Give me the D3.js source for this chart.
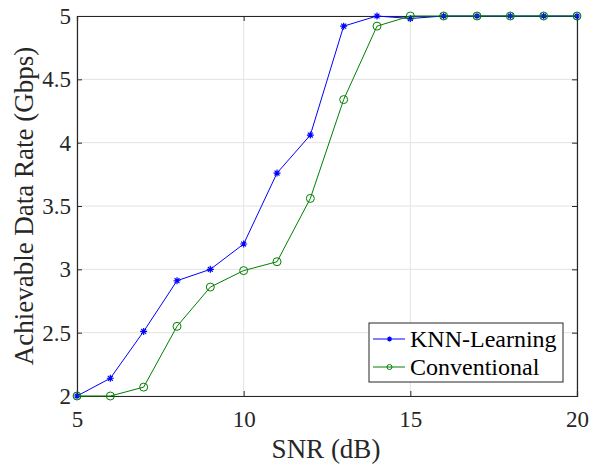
<!DOCTYPE html>
<html>
<head>
<meta charset="utf-8">
<script src="https://cdn.jsdelivr.net/npm/d3@7"></script>
<style>
  body { margin: 0; background: #fff; }
  text { font-family: "Liberation Serif", "Times New Roman", serif; }
</style>
</head>
<body>
<div id="chart"></div>
<script>
const snr = [5, 6, 7, 8, 9, 10, 11, 12, 13, 14, 15, 16, 17, 18, 19, 20];
const knnRate = [2.0, 2.14, 2.51, 2.91, 3.0, 3.2, 3.76, 4.06, 4.92, 5.0, 4.98, 5, 5, 5, 5, 5];
const convRate = [2.0, 2.0, 2.07, 2.55, 2.86, 2.99, 3.06, 3.56, 4.34, 4.92, 5.0, 5, 5, 5, 5, 5];
const xTicks = [5, 10, 15, 20];
const yTicks = [2, 2.5, 3, 3.5, 4, 4.5, 5];

const width = 589, height = 466;
const margin = { top: 16, right: 12, bottom: 70, left: 77 };
const w = width - margin.left - margin.right;
const h = height - margin.top - margin.bottom;

const svg = d3.select("#chart").append("svg")
    .attr("width", width)
    .attr("height", height);

const g = svg.append("g")
    .attr("transform", `translate(${margin.left},${margin.top})`);

const x = d3.scaleLinear().domain([5, 20]).range([0, w]);
const y = d3.scaleLinear().domain([2, 5]).range([h, 0]);

// grid
g.append("g").selectAll("line").data(xTicks).join("line")
    .attr("x1", d => x(d)).attr("x2", d => x(d))
    .attr("y1", 0).attr("y2", h)
    .attr("stroke", "#e3e3e3").attr("stroke-width", 1);
g.append("g").selectAll("line").data(yTicks).join("line")
    .attr("x1", 0).attr("x2", w)
    .attr("y1", d => y(d)).attr("y2", d => y(d))
    .attr("stroke", "#e3e3e3").attr("stroke-width", 1);

// axes
const axisColor = "#262626";
const axBottom = g.append("g")
    .attr("transform", `translate(0,${h})`)
    .call(d3.axisBottom(x).tickValues(xTicks).tickSize(-5).tickPadding(15));
const axLeft = g.append("g")
    .call(d3.axisLeft(y).tickValues(yTicks).tickSize(-5).tickPadding(6).tickFormat(d3.format("")));
const axTop = g.append("g")
    .call(d3.axisTop(x).tickValues(xTicks).tickSize(-5).tickFormat(""));
const axRight = g.append("g")
    .attr("transform", `translate(${w},0)`)
    .call(d3.axisRight(y).tickValues(yTicks).tickSize(-5).tickFormat(""));

[axBottom, axLeft, axTop, axRight].forEach(a => {
    a.attr("font-family", '"Liberation Serif", serif').attr("font-size", 23);
    a.select(".domain").attr("stroke", axisColor).attr("stroke-width", 1.2);
    a.selectAll(".tick line").attr("stroke", axisColor);
    a.selectAll(".tick text").attr("fill", axisColor);
});

// lines
const series = [
    { name: "KNN-Learning", values: knnRate, color: "#0000ff", marker: "star" },
    { name: "Conventional", values: convRate, color: "#008000", marker: "circle" }
];

const line = d3.line()
    .x((d, i) => x(snr[i]))
    .y(d => y(d));

function drawMarker(sel, type, color, size) {
    if (type === "circle") {
        sel.append("circle").attr("r", size)
            .attr("fill", "none").attr("stroke", color).attr("stroke-width", 1);
    } else {
        const s = size;
        const p = `M${-s},0L${s},0M0,${-s}L0,${s}M${-s * 0.7},${-s * 0.7}L${s * 0.7},${s * 0.7}M${-s * 0.7},${s * 0.7}L${s * 0.7},${-s * 0.7}`;
        sel.append("path").attr("d", p).attr("stroke", color).attr("stroke-width", 1.2).attr("fill", "none");
    }
}

series.forEach(s => {
    g.append("path")
        .datum(s.values)
        .attr("fill", "none")
        .attr("stroke", s.color)
        .attr("stroke-width", 1)
        .attr("d", line);
    g.append("g").selectAll("g").data(s.values).join("g")
        .attr("transform", (d, i) => `translate(${x(snr[i])},${y(d)})`)
        .each(function () { drawMarker(d3.select(this), s.marker, s.color, s.marker === "circle" ? 4 : 3.5); });
});

// legend
const lg = svg.append("g").attr("transform", "translate(369,323)");
lg.append("rect")
    .attr("width", 194).attr("height", 59)
    .attr("fill", "#fff").attr("stroke", axisColor).attr("stroke-width", 1);
series.forEach((s, i) => {
    const yy = 16 + i * 28;
    lg.append("line").attr("x1", 4).attr("x2", 36).attr("y1", yy).attr("y2", yy)
        .attr("stroke", s.color).attr("stroke-width", 1);
    const m = lg.append("g").attr("transform", `translate(20.5,${yy})`);
    drawMarker(m, s.marker, s.color, 2.5);
    lg.append("text").attr("x", 41).attr("y", yy + 8)
        .attr("fill", "#000").style("font-size", "24px")
        .text(s.name);
});

// axis labels
svg.append("text")
    .attr("x", 326).attr("y", 458)
    .attr("text-anchor", "middle")
    .attr("fill", axisColor)
    .style("font-size", "27px")
    .text("SNR (dB)");

svg.append("text")
    .attr("transform", `translate(33,206) rotate(-90)`)
    .attr("text-anchor", "middle")
    .attr("fill", axisColor)
    .style("font-size", "27px")
    .text("Achievable Data Rate (Gbps)");
</script>
</body>
</html>
